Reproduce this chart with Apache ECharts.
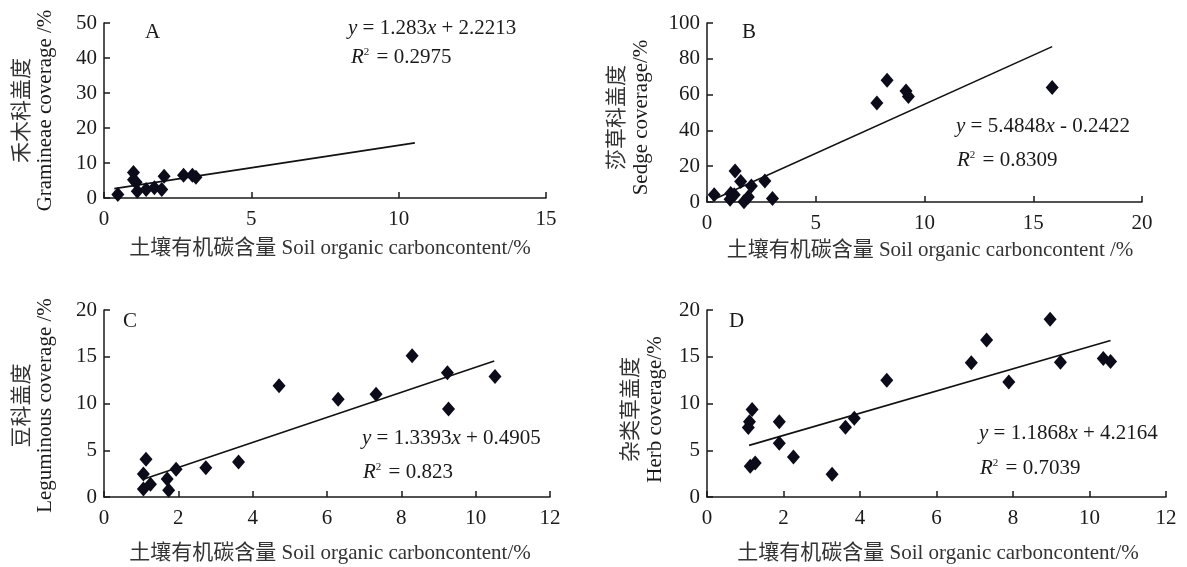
<!DOCTYPE html>
<html>
<head>
<meta charset="utf-8">
<script src="https://cdn.jsdelivr.net/npm/echarts@6/dist/echarts.min.js"></script>
<style>
html,body{margin:0;padding:0;background:#fff;}
#chart{width:1187px;height:567px;}
</style>
</head>
<body>
<div id="chart"></div>
<script>
// ---- Data ----
const pointsA = [[0.47,1.0],[1.0,7.3],[1.0,5.2],[1.09,4.5],[1.13,1.9],[1.43,2.4],[1.71,2.9],[1.96,2.4],[2.04,6.2],[2.70,6.5],[3.0,6.5],[3.12,5.9]];
const pointsB = [[0.33,4.1],[1.06,1.5],[1.09,4.7],[1.25,4.1],[1.29,17.3],[1.55,11.5],[1.70,0.2],[1.90,2.8],[2.04,8.9],[2.66,11.7],[3.01,1.9],[7.81,55.3],[8.28,68.0],[9.15,62.0],[9.26,59.0],[15.87,63.9]];
const pointsC = [[1.06,0.86],[1.06,2.46],[1.13,4.04],[1.25,1.36],[1.70,1.93],[1.74,0.71],[1.94,2.96],[2.74,3.14],[3.62,3.75],[4.71,11.9],[6.30,10.46],[7.32,11.0],[8.29,15.1],[9.24,13.3],[9.27,9.4],[10.52,12.9]];
const pointsD = [[1.08,7.43],[1.11,8.04],[1.18,9.36],[1.13,3.29],[1.26,3.64],[1.89,8.04],[1.89,5.75],[2.26,4.29],[3.27,2.43],[3.62,7.46],[3.85,8.43],[4.70,12.5],[6.91,14.36],[7.31,16.8],[7.89,12.3],[8.97,19.0],[9.24,14.4],[10.36,14.8],[10.55,14.5]];

const fitSlopes     = [1.283, 5.4848, 1.3393, 1.1868];
const fitIntercepts = [2.2213, -0.2422, 0.4905, 4.2164];
const fitXStart     = [0.35, 0.25, 1.1, 1.1];
const fitXEnd       = [10.55, 15.87, 10.5, 10.55];
const eqTexts = ['1.283x + 2.2213', '5.4848x - 0.2422', '1.3393x + 0.4905', '1.1868x + 4.2164'];
const r2Texts = ['0.2975', '0.8309', '0.823', '0.7039'];
const panelLetters = ['A', 'B', 'C', 'D'];
const yNamesCN = ['禾木科盖度', '莎草科盖度', '豆科盖度', '杂类草盖度'];
const yNamesEN = ['Gramineae coverage /%', 'Sedge coverage/%', 'Leguminous coverage /%', 'Herb coverage/%'];
const xNames = ['土壤有机碳含量 Soil organic carboncontent/%', '土壤有机碳含量 Soil organic carboncontent /%', '土壤有机碳含量 Soil organic carboncontent/%', '土壤有机碳含量 Soil organic carboncontent/%'];
const xMax = [15, 20, 12, 12];
const xStep = [5, 5, 2, 2];
const yMax = [50, 100, 20, 20];
const yStep = [10, 20, 5, 5];

// ---- Layout ----
const grids = [
  {left:104, top:23, width:442, height:175},
  {left:707, top:23, width:435, height:179},
  {left:104, top:310, width:446, height:187},
  {left:707, top:310, width:459, height:187}
];
const SERIF = '"Liberation Serif","Times New Roman","Noto Sans CJK SC",serif';
const TXT = '#1a1a1a';
const FS = 21;
const allPoints = [pointsA, pointsB, pointsC, pointsD];

const xAxes = [], yAxes = [], series = [], graphics = [];
for (let i = 0; i < 4; i++) {
  const axisCommon = {
    axisLine: {show: true, lineStyle: {color: TXT, width: 1.5}},
    axisTick: {show: true, inside: true, length: 6, lineStyle: {color: TXT, width: 1.5}},
    splitLine: {show: false}
  };
  xAxes.push(Object.assign({type: 'value', gridIndex: i, min: 0, max: xMax[i], interval: xStep[i]}, axisCommon,
    {axisLabel: {color: TXT, fontFamily: SERIF, fontSize: FS, margin: 11}}));
  yAxes.push(Object.assign({type: 'value', gridIndex: i, min: 0, max: yMax[i], interval: yStep[i]}, axisCommon,
    {axisLabel: {color: TXT, fontFamily: SERIF, fontSize: FS, margin: 7}}));

  series.push({
    type: 'scatter', xAxisIndex: i, yAxisIndex: i,
    symbol: 'diamond', symbolSize: [13, 15],
    itemStyle: {color: '#0b0b1a', opacity: 1},
    data: allPoints[i], z: 3
  });
  const lineData = [fitXStart[i], fitXEnd[i]].map(x => [x, fitSlopes[i] * x + fitIntercepts[i]]);
  series.push({
    type: 'line', xAxisIndex: i, yAxisIndex: i,
    data: lineData, symbol: 'none',
    lineStyle: {color: '#111', width: 1.6}, z: 2, silent: true
  });

  const g = grids[i];
  // panel letter
  const letterPos = [[145, 33], [742, 33], [123, 322], [729, 322]][i];
  graphics.push({type: 'text', left: letterPos[0], top: letterPos[1] - 11,
    style: {text: panelLetters[i], font: FS + 'px ' + SERIF, fill: TXT}});
  // equations
  const eqPos = [[348, 28, 351, 57], [956, 126, 957, 160], [362, 438, 363, 472], [979, 433, 980, 468]][i];
  graphics.push({type: 'text', x: eqPos[0], y: eqPos[1],
    style: {text: '{i|y} = ' + eqTexts[i].replace('x', '{i|x}'), font: FS + 'px ' + SERIF, fill: TXT,
      verticalAlign: 'middle',
      rich: {i: {fontStyle: 'italic', fontFamily: SERIF, fontSize: FS, fill: TXT}}}});
  graphics.push({type: 'text', x: eqPos[2], y: eqPos[3],
    style: {text: '{i|R}{s|2} = ' + r2Texts[i], font: FS + 'px ' + SERIF, fill: TXT,
      verticalAlign: 'middle',
      rich: {i: {fontStyle: 'italic', fontFamily: SERIF, fontSize: FS, fill: TXT},
             s: {fontFamily: SERIF, fontSize: 11, fill: TXT, verticalAlign: 'top', padding: [0, 2, 8, 0]}}}});
  // y-axis names (two rotated lines)
  const yc = g.top + g.height / 2 + [0, 5, 2, 6][i];
  const cnX = g.left - [84, 92, 84, 78][i];
  const enX = g.left - [59, 66, 59, 52][i];
  graphics.push({type: 'text', x: cnX, y: yc, rotation: Math.PI / 2,
    style: {text: yNamesCN[i], font: FS + 'px "Noto Sans CJK SC",' + SERIF, fill: '#333', align: 'center', verticalAlign: 'middle'}});
  graphics.push({type: 'text', x: enX, y: yc, rotation: Math.PI / 2,
    style: {text: yNamesEN[i], font: FS + 'px ' + SERIF, fill: TXT, align: 'center', verticalAlign: 'middle'}});
  // x-axis names
  const xc = [330, 930, 330, 938][i];
  const xy = g.top + g.height + [50, 48, 56, 56][i];
  graphics.push({type: 'text', x: xc, y: xy,
    style: {text: xNames[i], font: FS + 'px ' + SERIF, fill: '#333', align: 'center', verticalAlign: 'middle'}});
}

const chart = echarts.init(document.getElementById('chart'), null, {renderer: 'canvas'});
chart.setOption({
  backgroundColor: '#fff',
  animation: false,
  grid: grids,
  xAxis: xAxes,
  yAxis: yAxes,
  series: series,
  graphic: graphics
});
</script>
</body>
</html>
